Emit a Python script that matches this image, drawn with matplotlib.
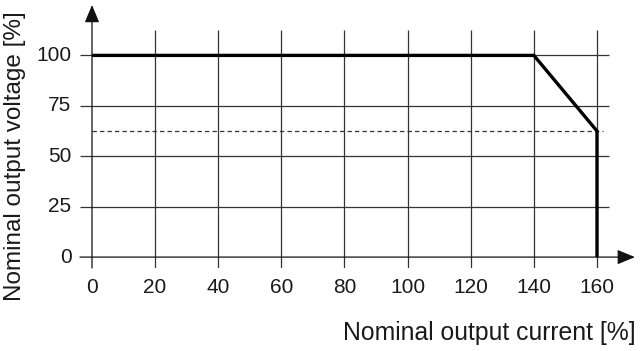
import matplotlib
matplotlib.use("Agg")
import matplotlib.pyplot as plt

# ── data ──────────────────────────────────────────────────────────────────────
x_ticks = [0, 20, 40, 60, 80, 100, 120, 140, 160]
y_ticks = [0, 25, 50, 75, 100]
curve_current = [0, 140, 160, 160]
curve_voltage = [100, 100, 62.5, 0]
dashed_level = 62.5

plt.rcParams['font.family'] = ['Liberation Sans', 'DejaVu Sans']

fig = plt.figure(figsize=(6.4, 3.51), dpi=100)
ax = fig.add_axes([0.125, 0.2365, 0.867, 0.7493])
x_lo, x_hi = -3.8, 172
y_lo, y_hi = -5.4, 125
ax.set_xlim(x_lo, x_hi)
ax.set_ylim(y_lo, y_hi)
ax.axis('off')

grid_col = '#333333'
text_col = '#1a1a1a'
# grid (extends past the axes like tick marks)
ax.vlines(x_ticks[1:], y_lo, 112.4, color=grid_col, lw=0.9)
ax.hlines(y_ticks[1:], x_lo, 163.8, color=grid_col, lw=0.9)

# axes with arrows
ax.annotate('', xy=(x_hi, 0), xytext=(x_lo, 0),
            arrowprops=dict(arrowstyle='-|>,head_length=0.6,head_width=0.25',
                            color='#111111', lw=0.9,
                            mutation_scale=18, shrinkA=0, shrinkB=0))
ax.annotate('', xy=(0, y_hi), xytext=(0, y_lo),
            arrowprops=dict(arrowstyle='-|>,head_length=0.6,head_width=0.25',
                            color='#111111', lw=0.9,
                            mutation_scale=18, shrinkA=0, shrinkB=0))

# dashed reference level
ax.hlines(dashed_level, 0, 162, color=grid_col, lw=0.9, linestyles=(0, (3.5, 2.5)))

# characteristic curve
ax.plot(curve_current, curve_voltage, color='black', lw=2.4, solid_joinstyle='miter',
        solid_capstyle='butt')

# tick labels
for v in x_ticks:
    ax.text(v, -10.5, str(v), ha='center', va='top', fontsize=15, color=text_col)
for v in y_ticks:
    ax.text(-6.5, v, str(v), ha='right', va='center', fontsize=15, color=text_col)

fig.text(0.993, 0.052, 'Nominal output current [%]', ha='right', va='center',
         fontsize=17.8, color=text_col)
fig.text(0.024, 0.555, 'Nominal output voltage [%]', ha='center', va='center',
         rotation=90, fontsize=17.5, color=text_col)

fig.savefig('out.png', dpi=100)
